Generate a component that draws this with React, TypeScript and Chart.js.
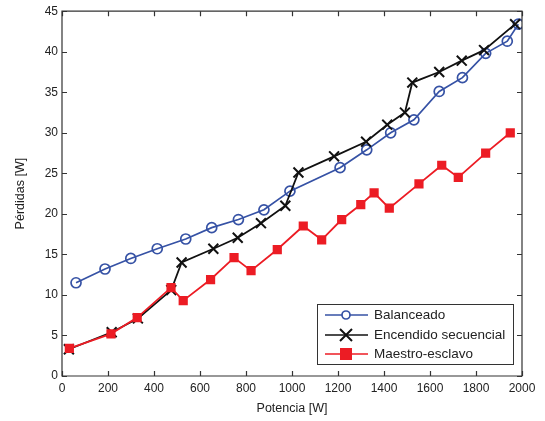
import React, { useEffect, useRef } from "react";
import { Chart, registerables } from "chart.js";

Chart.register(...registerables);

const balanceadoX = [61, 187, 299, 414, 538, 651, 767, 878, 991, 1209, 1325, 1429, 1530, 1640, 1741, 1842, 1936, 1984];
const balanceadoY = [11.5, 13.2, 14.5, 15.7, 16.9, 18.3, 19.3, 20.5, 22.8, 25.7, 27.9, 30.0, 31.6, 35.1, 36.8, 39.8, 41.3, 43.4];

const encendidoX = [30, 216, 330, 475, 520, 658, 764, 865, 971, 1028, 1183, 1322, 1414, 1491, 1523, 1640, 1738, 1835, 1970];
const encendidoY = [3.3, 5.4, 7.1, 10.6, 14.0, 15.7, 17.05, 18.85, 21.0, 25.1, 27.1, 28.9, 31.0, 32.5, 36.2, 37.5, 38.9, 40.2, 43.4];

const maestroX = [32, 213, 327, 474, 527, 646, 748, 822, 936, 1049, 1129, 1216, 1299, 1357, 1423, 1552, 1651, 1723, 1842, 1949];
const maestroY = [3.4, 5.2, 7.2, 10.9, 9.3, 11.9, 14.6, 13.0, 15.6, 18.5, 16.8, 19.3, 21.15, 22.6, 20.7, 23.7, 26.0, 24.5, 27.5, 30.0];

const seriesNames = ["Balanceado", "Encendido secuencial", "Maestro-esclavo"];
const xTicks = [0, 200, 400, 600, 800, 1000, 1200, 1400, 1600, 1800, 2000];
const yTicks = [0, 5, 10, 15, 20, 25, 30, 35, 40, 45];

const BLUE = "#3652a5";
const BLACK = "#111111";
const RED = "#ec1c24";
const AXIS = "#333333";
const FONT = "'Liberation Sans', Arial, sans-serif";

const toPts = (xs: number[], ys: number[]) => xs.map((x, i) => ({ x, y: ys[i] }));

const frameAndLegend = {
  id: "frameAndLegend",
  afterDatasetsDraw(chart: any) {
    const { ctx, chartArea: a, scales } = chart;
    const xs = scales.x;
    const ys = scales.y;
    ctx.save();
    ctx.strokeStyle = AXIS;
    ctx.lineWidth = 1.2;
    ctx.beginPath();
    ctx.rect(a.left, a.top, a.right - a.left, a.bottom - a.top);
    ctx.stroke();
    const t = 5;
    ctx.beginPath();
    xTicks.forEach((v) => {
      const px = Math.round(xs.getPixelForValue(v)) + 0.5;
      ctx.moveTo(px, a.bottom);
      ctx.lineTo(px, a.bottom - t);
      ctx.moveTo(px, a.top);
      ctx.lineTo(px, a.top + t);
    });
    yTicks.forEach((v) => {
      const py = Math.round(ys.getPixelForValue(v)) + 0.5;
      ctx.moveTo(a.left, py);
      ctx.lineTo(a.left + t, py);
      ctx.moveTo(a.right, py);
      ctx.lineTo(a.right - t, py);
    });
    ctx.stroke();

    // legend
    const lx = 317, ly = 304, lw = 196, lh = 60;
    ctx.fillStyle = "#ffffff";
    ctx.fillRect(lx, ly, lw, lh);
    ctx.strokeStyle = AXIS;
    ctx.lineWidth = 1;
    ctx.strokeRect(lx + 0.5, ly + 0.5, lw, lh);
    const rows = [ly + 11, ly + 31, ly + 50];
    const colors = [BLUE, BLACK, RED];
    rows.forEach((ry, i) => {
      ctx.strokeStyle = colors[i];
      ctx.lineWidth = 1.7;
      ctx.beginPath();
      ctx.moveTo(lx + 8, ry);
      ctx.lineTo(lx + 51, ry);
      ctx.stroke();
      const mx = lx + 29;
      if (i === 0) {
        ctx.fillStyle = "#fff";
        ctx.beginPath();
        ctx.arc(mx, ry, 4, 0, Math.PI * 2);
        ctx.fill();
        ctx.stroke();
      } else if (i === 1) {
        ctx.lineWidth = 2;
        ctx.beginPath();
        ctx.moveTo(mx - 6, ry - 6);
        ctx.lineTo(mx + 6, ry + 6);
        ctx.moveTo(mx + 6, ry - 6);
        ctx.lineTo(mx - 6, ry + 6);
        ctx.stroke();
      } else {
        ctx.fillStyle = RED;
        ctx.fillRect(mx - 6, ry - 6, 12, 12);
      }
      ctx.fillStyle = "#222";
      ctx.font = `13.5px ${FONT}`;
      ctx.textBaseline = "middle";
      ctx.textAlign = "left";
      ctx.fillText(seriesNames[i], lx + 57, ry + 0.5);
    });
    ctx.restore();
  },
};

export default function App() {
  const ref = useRef<HTMLCanvasElement | null>(null);
  useEffect(() => {
    document.body.style.margin = "0";
    const canvas = ref.current!;
    const chart = new Chart(canvas, {
      type: "line",
      data: {
        datasets: [
          {
            label: seriesNames[0],
            data: toPts(balanceadoX, balanceadoY),
            order: 2,
            borderColor: BLUE,
            backgroundColor: "#ffffff",
            borderWidth: 1.7,
            pointStyle: "circle",
            pointRadius: 5,
            pointBorderWidth: 1.7,
            pointBorderColor: BLUE,
            pointBackgroundColor: "rgba(255,255,255,0)",
            tension: 0,
          },
          {
            label: seriesNames[1],
            data: toPts(encendidoX, encendidoY),
            order: 1,
            borderColor: BLACK,
            backgroundColor: BLACK,
            borderWidth: 1.8,
            pointStyle: "crossRot",
            pointRadius: 7,
            pointBorderWidth: 2,
            pointBorderColor: BLACK,
            tension: 0,
          },
          {
            label: seriesNames[2],
            data: toPts(maestroX, maestroY),
            order: 0,
            borderColor: RED,
            backgroundColor: RED,
            borderWidth: 1.8,
            pointStyle: "rect",
            pointRadius: 6.5,
            pointBorderWidth: 0,
            pointBackgroundColor: RED,
            tension: 0,
          },
        ],
      },
      options: {
        animation: false,
        responsive: false,
        devicePixelRatio: 1,
        layout: { padding: { left: 0, right: 23, top: 10, bottom: 0 } },
        plugins: { legend: { display: false }, tooltip: { enabled: false } },
        scales: {
          x: {
            type: "linear",
            min: 0,
            max: 2000,
            afterBuildTicks: (s: any) => {
              s.ticks = xTicks.map((v) => ({ value: v }));
            },
            afterFit: (s: any) => {
              s.height = 45;
            },
            grid: { display: false, drawTicks: false },
            border: { display: false },
            ticks: {
              color: "#222",
              font: { family: FONT, size: 12 },
              padding: 5,
              autoSkip: false,
              maxRotation: 0,
              callback: (v: any) => String(v),
            },
            title: {
              display: true,
              text: "Potencia [W]",
              color: "#222",
              font: { family: FONT, size: 12.5 },
              padding: { top: 2, bottom: 5 },
            },
          },
          y: {
            type: "linear",
            min: 0,
            max: 45,
            afterBuildTicks: (s: any) => {
              s.ticks = yTicks.map((v) => ({ value: v }));
            },
            afterFit: (s: any) => {
              s.width = 62;
            },
            grid: { display: false, drawTicks: false },
            border: { display: false },
            ticks: {
              color: "#222",
              font: { family: FONT, size: 12 },
              padding: 4,
              callback: (v: any) => String(v),
            },
            title: {
              display: true,
              text: "Pérdidas [W]",
              color: "#222",
              font: { family: FONT, size: 12.5 },
              padding: { top: 13, bottom: 0 },
            },
          },
        },
      },
      plugins: [frameAndLegend],
    } as any);
    return () => chart.destroy();
  }, []);
  return (
    <div style={{ width: 545, height: 421 }}>
      <canvas ref={ref} width={545} height={421} style={{ display: "block" }} />
    </div>
  );
}
